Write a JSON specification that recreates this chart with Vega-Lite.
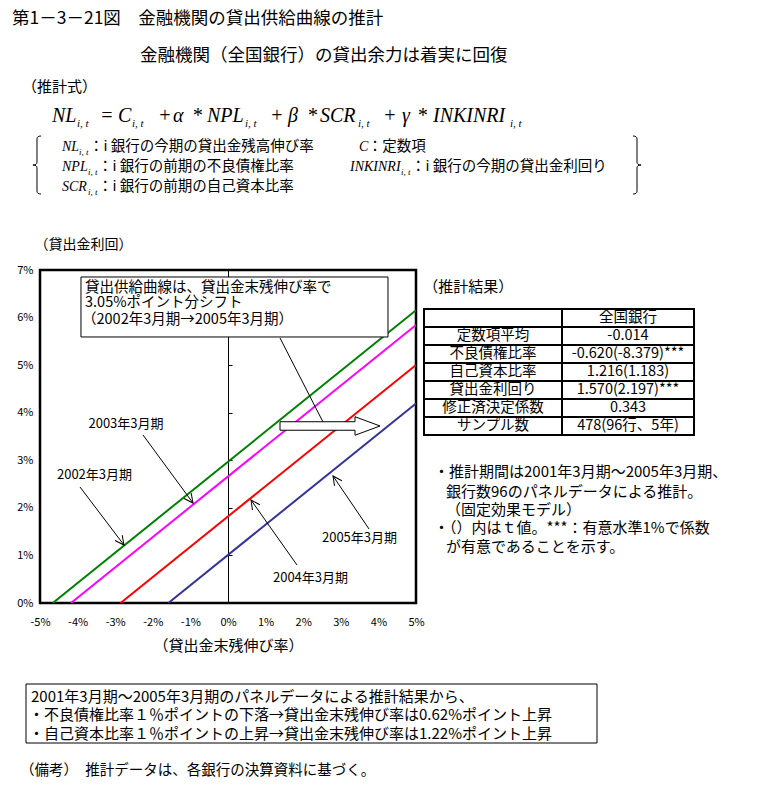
{
  "$schema": "https://vega.github.io/schema/vega-lite/v6.json",
  "width": 376,
  "height": 333,
  "autosize": {"type": "none"},
  "padding": {"left": 40, "top": 270, "right": 345, "bottom": 184},
  "background": "white",
  "config": {
    "view": {"stroke": "black", "strokeWidth": 2.5},
    "font": "Noto Sans CJK JP",
    "text": {"font": "Noto Sans CJK JP", "color": "black"},
    "axis": {"labelOverlap": false}
  },
  "resolve": {"axis": {"x": "independent", "y": "independent"}},
  "datasets": {
    "curves": [
      {"period": "2002年3月期", "x": -4.66, "y": 0},
      {"period": "2002年3月期", "x": 5, "y": 6.155},
      {"period": "2003年3月期", "x": -4.176, "y": 0},
      {"period": "2003年3月期", "x": 5, "y": 5.845},
      {"period": "2004年3月期", "x": -2.857, "y": 0},
      {"period": "2004年3月期", "x": 5, "y": 5.005},
      {"period": "2005年3月期", "x": -1.586, "y": 0},
      {"period": "2005年3月期", "x": 5, "y": 4.195}
    ],
    "periodLabels": [
      {"label": "2002年3月期", "x": -3.551, "y": 2.691, "x1": -3.936, "y1": 2.438, "x2": -2.766, "y2": 1.219},
      {"label": "2003年3月期", "x": -2.713, "y": 3.773, "x1": -2.261, "y1": 3.532, "x2": -0.931, "y2": 2.102},
      {"label": "2004年3月期", "x": 2.194, "y": 0.526, "x1": 1.835, "y1": 0.799, "x2": 0.612, "y2": 2.165},
      {"label": "2005年3月期", "x": 3.497, "y": 1.366, "x1": 3.75, "y1": 1.556, "x2": 2.793, "y2": 2.67}
    ],
    "frames": [
      {"name": "shift", "x": -3.91, "x2": 4.255, "y": 6.853, "y2": 5.592},
      {"name": "summary", "x": -5.372, "x2": 9.814, "y": -1.703, "y2": -2.943}
    ],
    "pointer": [
      {"x": 1.383, "y": 5.571, "x2": 2.527, "y2": 3.805}
    ],
    "shiftArrow": [
      {"x": 2.713, "y": 3.721}
    ],
    "braces": [
      {"side": "left", "x": -5.08, "y": 9.207},
      {"side": "right", "x": 10.878, "y": 9.207}
    ],
    "shiftNote": [
      {"t": "貸出供給曲線は、貸出金末残伸び率で", "x": -3.803, "y": 6.622},
      {"t": "3.05%ポイント分シフト", "x": -3.803, "y": 6.296},
      {"t": "（2002年3月期→2005年3月期）", "x": -3.883, "y": 5.949}
    ],
    "headings": [
      {"t": "第1－3－21図　金融機関の貸出供給曲線の推計", "x": -5.745, "y": 12.276},
      {"t": "金融機関（全国銀行）の貸出余力は着実に回復", "x": -2.34, "y": 11.499}
    ],
    "formulaLabel": [
      {"t": "（推計式）", "x": -5.479, "y": 10.857}
    ],
    "formula": [
      {"t": "NL", "x": -4.681, "y": 10.111},
      {"t": "=", "x": -3.404, "y": 10.111},
      {"t": "C", "x": -2.926, "y": 10.111},
      {"t": "+", "x": -1.862, "y": 10.111},
      {"t": "α", "x": -1.463, "y": 10.111},
      {"t": "*", "x": -0.957, "y": 10.111},
      {"t": "NPL", "x": -0.559, "y": 10.111},
      {"t": "+", "x": 1.117, "y": 10.111},
      {"t": "β", "x": 1.596, "y": 10.111},
      {"t": "*", "x": 2.101, "y": 10.111},
      {"t": "SCR", "x": 2.447, "y": 10.111},
      {"t": "+", "x": 4.122, "y": 10.111},
      {"t": "γ", "x": 4.628, "y": 10.111},
      {"t": "*", "x": 5.027, "y": 10.111},
      {"t": "INKINRI", "x": 5.452, "y": 10.111}
    ],
    "formulaSub": [
      {"t": "i, t", "x": -4.016, "y": 10.006},
      {"t": "i, t", "x": -2.553, "y": 10.006},
      {"t": "i, t", "x": 0.452, "y": 10.006},
      {"t": "i, t", "x": 3.457, "y": 10.006},
      {"t": "i, t", "x": 7.5, "y": 10.006}
    ],
    "defVars": [
      {"t": "NL", "x": -4.415, "y": 9.586},
      {"t": "C", "x": 3.484, "y": 9.586},
      {"t": "NPL", "x": -4.415, "y": 9.165},
      {"t": "INKINRI", "x": 3.245, "y": 9.165},
      {"t": "SCR", "x": -4.415, "y": 8.745}
    ],
    "defSubs": [
      {"t": "i, t", "x": -3.963, "y": 9.481},
      {"t": "i, t", "x": -3.723, "y": 9.06},
      {"t": "i, t", "x": 4.601, "y": 9.06},
      {"t": "i, t", "x": -3.723, "y": 8.64}
    ],
    "defTexts": [
      {"t": "：i 銀行の今期の貸出金残高伸び率", "x": -3.697, "y": 9.586},
      {"t": "：定数項", "x": 3.72, "y": 9.586},
      {"t": "：i 銀行の前期の不良債権比率", "x": -3.457, "y": 9.165},
      {"t": "：i 銀行の今期の貸出金利回り", "x": 4.867, "y": 9.165},
      {"t": "：i 銀行の前期の自己資本比率", "x": -3.457, "y": 8.745}
    ],
    "table": [
      {"item": "", "value": "全国銀行", "top": 6.18, "bottom": 5.802, "mid": 5.991},
      {"item": "定数項平均", "value": "-0.014", "top": 5.802, "bottom": 5.423, "mid": 5.613},
      {"item": "不良債権比率", "value": "-0.620(-8.379)***", "top": 5.423, "bottom": 5.045, "mid": 5.234},
      {"item": "自己資本比率", "value": "1.216(1.183)", "top": 5.045, "bottom": 4.667, "mid": 4.856},
      {"item": "貸出金利回り", "value": "1.570(2.197)***", "top": 4.667, "bottom": 4.288, "mid": 4.477},
      {"item": "修正済決定係数", "value": "0.343", "top": 4.288, "bottom": 3.91, "mid": 4.099},
      {"item": "サンプル数", "value": "478(96行、5年)", "top": 3.91, "bottom": 3.532, "mid": 3.721}
    ],
    "resultTitle": [
      {"t": "（推計結果）", "x": 5.19, "y": 6.643}
    ],
    "notes": [
      {"t": "・推計期間は2001年3月期～2005年3月期、", "x": 5.479, "y": 2.754},
      {"t": "銀行数96のパネルデータによる推計。", "x": 5.798, "y": 2.333},
      {"t": "（固定効果モデル）", "x": 5.798, "y": 1.955},
      {"t": "・（）内はｔ値。***：有意水準1%で係数", "x": 5.479, "y": 1.577},
      {"t": "が有意であることを示す。", "x": 5.798, "y": 1.177}
    ],
    "boxNotes": [
      {"t": "2001年3月期～2005年3月期のパネルデータによる推計結果から、", "x": -5.239, "y": -1.976},
      {"t": "・不良債権比率１％ポイントの下落→貸出金末残伸び率は0.62%ポイント上昇", "x": -5.293, "y": -2.354},
      {"t": "・自己資本比率１％ポイントの上昇→貸出金末残伸び率は1.22%ポイント上昇", "x": -5.293, "y": -2.754}
    ],
    "remark": [
      {"t": "（備考）　推計データは、各銀行の決算資料に基づく。", "x": -5.532, "y": -3.532}
    ]
  },
  "layer": [
    {
      "data": {"name": "curves"},
      "mark": {"type": "line", "strokeWidth": 2, "clip": true},
      "encoding": {
        "x": {
          "field": "x", "type": "quantitative",
          "scale": {"domain": [-5, 5], "nice": false, "zero": false},
          "axis": {
            "orient": "bottom",
            "values": [-5, -4, -3, -2, -1, 0, 1, 2, 3, 4, 5],
            "labelExpr": "datum.value + '%'",
            "grid": false, "ticks": false, "domain": false,
            "labelPadding": 13, "labelFontSize": 11, "labelFont": "Noto Sans CJK JP",
            "labelColor": "black", "labelOverlap": false, "labelFlush": false,
            "title": "（貸出金末残伸び率）", "titleFontSize": 15, "titleFontWeight": "normal",
            "titleFont": "Noto Sans CJK JP", "titleColor": "black", "titlePadding": 11
          }
        },
        "y": {
          "field": "y", "type": "quantitative",
          "scale": {"domain": [0, 7], "nice": false, "zero": false},
          "axis": {
            "orient": "left",
            "values": [0, 1, 2, 3, 4, 5, 6, 7],
            "labelExpr": "datum.value + '%'",
            "grid": false, "ticks": false, "domain": false,
            "labelPadding": 7, "labelFontSize": 11, "labelFont": "Noto Sans CJK JP",
            "labelColor": "black", "labelOverlap": false,
            "title": "（貸出金利回）", "titleAngle": 0, "titleAlign": "left", "titleBaseline": "middle",
            "titleX": -6, "titleY": -26, "titleFontSize": 14, "titleFontWeight": "normal",
            "titleFont": "Noto Sans CJK JP", "titleColor": "black"
          }
        },
        "color": {
          "field": "period", "type": "nominal",
          "scale": {"domain": ["2002年3月期", "2003年3月期", "2004年3月期", "2005年3月期"], "range": ["#008000", "#FF00FF", "#FF0000", "#333399"]},
          "legend": null
        }
      }
    },
    {
      "data": {"name": "curves"},
      "mark": {"type": "point", "opacity": 0},
      "encoding": {
        "x": {"field": "x", "type": "quantitative", "axis": null},
        "y": {
          "field": "y", "type": "quantitative",
          "axis": {
            "orient": "right", "offset": -188,
            "values": [0, 1, 2, 3, 4, 5, 6, 7],
            "labels": false, "ticks": true, "tickSize": 4, "tickColor": "black", "tickWidth": 1,
            "domain": true, "domainColor": "black", "domainWidth": 1,
            "grid": false, "title": null
          }
        }
      }
    },
    {
      "data": {"name": "periodLabels"},
      "mark": {"type": "rule", "color": "black", "strokeWidth": 1},
      "encoding": {
        "x": {"field": "x1", "type": "quantitative", "axis": null},
        "y": {"field": "y1", "type": "quantitative", "axis": null},
        "x2": {"field": "x2"},
        "y2": {"field": "y2"}
      }
    },
    {
      "data": {"name": "periodLabels"},
      "transform": [{"filter": "datum.x2 > datum.x1"}],
      "mark": {"type": "point", "shape": "M-0.5,1L0,0L0.5,1", "size": 324, "filled": false, "color": "black", "strokeWidth": 1, "opacity": 1, "angle": 143},
      "encoding": {
        "x": {"field": "x2", "type": "quantitative", "axis": null},
        "y": {"field": "y2", "type": "quantitative", "axis": null}
      }
    },
    {
      "data": {"name": "periodLabels"},
      "transform": [{"filter": "datum.x2 < datum.x1"}],
      "mark": {"type": "point", "shape": "M-0.5,1L0,0L0.5,1", "size": 324, "filled": false, "color": "black", "strokeWidth": 1, "opacity": 1, "angle": 325},
      "encoding": {
        "x": {"field": "x2", "type": "quantitative", "axis": null},
        "y": {"field": "y2", "type": "quantitative", "axis": null}
      }
    },
    {
      "data": {"name": "periodLabels"},
      "mark": {"type": "text", "align": "center", "baseline": "middle", "fontSize": 13},
      "encoding": {
        "x": {"field": "x", "type": "quantitative", "axis": null},
        "y": {"field": "y", "type": "quantitative", "axis": null},
        "text": {"field": "label"}
      }
    },
    {
      "data": {"name": "pointer"},
      "mark": {"type": "rule", "color": "black", "strokeWidth": 1},
      "encoding": {
        "x": {"field": "x", "type": "quantitative", "axis": null},
        "y": {"field": "y", "type": "quantitative", "axis": null},
        "x2": {"field": "x2"},
        "y2": {"field": "y2"}
      }
    },
    {
      "data": {"name": "shiftArrow"},
      "mark": {"type": "point", "shape": "M-1,-0.085L0.5,-0.085L0.5,-0.185L1,0L0.5,0.185L0.5,0.085L-1,0.085Z", "size": 10000, "filled": true, "fill": "white", "stroke": "black", "strokeWidth": 1, "opacity": 1},
      "encoding": {
        "x": {"field": "x", "type": "quantitative", "axis": null},
        "y": {"field": "y", "type": "quantitative", "axis": null}
      }
    },
    {
      "data": {"name": "frames"},
      "mark": {"type": "rect", "fill": "white", "stroke": "black", "strokeWidth": 1},
      "encoding": {
        "x": {"field": "x", "type": "quantitative", "axis": null},
        "x2": {"field": "x2"},
        "y": {"field": "y", "type": "quantitative", "axis": null},
        "y2": {"field": "y2"}
      }
    },
    {
      "data": {"name": "braces"},
      "mark": {"type": "point", "size": 3364, "filled": false, "color": "black", "strokeWidth": 1, "opacity": 1},
      "encoding": {
        "x": {"field": "x", "type": "quantitative", "axis": null},
        "y": {"field": "y", "type": "quantitative", "axis": null},
        "shape": {
          "field": "side", "type": "nominal",
          "scale": {"domain": ["left", "right"], "range": ["M0.14,-1Q0,-1,0,-0.9L0,-0.1Q0,0,-0.14,0Q0,0,0,0.1L0,0.9Q0,1,0.14,1", "M-0.14,-1Q0,-1,0,-0.9L0,-0.1Q0,0,0.14,0Q0,0,0,0.1L0,0.9Q0,1,-0.14,1"]},
          "legend": null
        }
      }
    },
    {
      "data": {"name": "shiftNote"},
      "mark": {"type": "text", "align": "left", "baseline": "middle", "fontSize": 14.5},
      "encoding": {
        "x": {"field": "x", "type": "quantitative", "axis": null},
        "y": {"field": "y", "type": "quantitative", "axis": null},
        "text": {"field": "t"}
      }
    },
    {
      "data": {"name": "headings"},
      "mark": {"type": "text", "align": "left", "baseline": "middle", "fontSize": 17.5},
      "encoding": {
        "x": {"field": "x", "type": "quantitative", "axis": null},
        "y": {"field": "y", "type": "quantitative", "axis": null},
        "text": {"field": "t"}
      }
    },
    {
      "data": {"name": "formulaLabel"},
      "mark": {"type": "text", "align": "left", "baseline": "middle", "fontSize": 15},
      "encoding": {
        "x": {"field": "x", "type": "quantitative", "axis": null},
        "y": {"field": "y", "type": "quantitative", "axis": null},
        "text": {"field": "t"}
      }
    },
    {
      "data": {"name": "formula"},
      "mark": {"type": "text", "align": "left", "baseline": "alphabetic", "fontSize": 20, "font": "Liberation Serif", "fontStyle": "italic"},
      "encoding": {
        "x": {"field": "x", "type": "quantitative", "axis": null},
        "y": {"field": "y", "type": "quantitative", "axis": null},
        "text": {"field": "t"}
      }
    },
    {
      "data": {"name": "formulaSub"},
      "mark": {"type": "text", "align": "left", "baseline": "alphabetic", "fontSize": 11, "font": "Liberation Serif", "fontStyle": "italic"},
      "encoding": {
        "x": {"field": "x", "type": "quantitative", "axis": null},
        "y": {"field": "y", "type": "quantitative", "axis": null},
        "text": {"field": "t"}
      }
    },
    {
      "data": {"name": "defVars"},
      "mark": {"type": "text", "align": "left", "baseline": "middle", "fontSize": 14, "font": "Liberation Serif", "fontStyle": "italic"},
      "encoding": {
        "x": {"field": "x", "type": "quantitative", "axis": null},
        "y": {"field": "y", "type": "quantitative", "axis": null},
        "text": {"field": "t"}
      }
    },
    {
      "data": {"name": "defSubs"},
      "mark": {"type": "text", "align": "left", "baseline": "middle", "fontSize": 9, "font": "Liberation Serif", "fontStyle": "italic"},
      "encoding": {
        "x": {"field": "x", "type": "quantitative", "axis": null},
        "y": {"field": "y", "type": "quantitative", "axis": null},
        "text": {"field": "t"}
      }
    },
    {
      "data": {"name": "defTexts"},
      "mark": {"type": "text", "align": "left", "baseline": "middle", "fontSize": 14.5},
      "encoding": {
        "x": {"field": "x", "type": "quantitative", "axis": null},
        "y": {"field": "y", "type": "quantitative", "axis": null},
        "text": {"field": "t"}
      }
    },
    {
      "data": {"name": "resultTitle"},
      "mark": {"type": "text", "align": "left", "baseline": "middle", "fontSize": 15},
      "encoding": {
        "x": {"field": "x", "type": "quantitative", "axis": null},
        "y": {"field": "y", "type": "quantitative", "axis": null},
        "text": {"field": "t"}
      }
    },
    {
      "data": {"name": "table"},
      "mark": {"type": "rect", "fillOpacity": 0, "stroke": "black", "strokeWidth": 2},
      "encoding": {
        "x": {"datum": 5.213, "type": "quantitative", "axis": null},
        "x2": {"datum": 8.883},
        "y": {"field": "top", "type": "quantitative", "axis": null},
        "y2": {"field": "bottom"}
      }
    },
    {
      "data": {"name": "table"},
      "mark": {"type": "rect", "fillOpacity": 0, "stroke": "black", "strokeWidth": 2},
      "encoding": {
        "x": {"datum": 8.883, "type": "quantitative", "axis": null},
        "x2": {"datum": 12.394},
        "y": {"field": "top", "type": "quantitative", "axis": null},
        "y2": {"field": "bottom"}
      }
    },
    {
      "data": {"name": "table"},
      "mark": {"type": "text", "align": "center", "baseline": "middle", "fontSize": 14.5},
      "encoding": {
        "x": {"datum": 7.048, "type": "quantitative", "axis": null},
        "y": {"field": "mid", "type": "quantitative", "axis": null},
        "text": {"field": "item"}
      }
    },
    {
      "data": {"name": "table"},
      "mark": {"type": "text", "align": "center", "baseline": "middle", "fontSize": 14.5},
      "encoding": {
        "x": {"datum": 10.638, "type": "quantitative", "axis": null},
        "y": {"field": "mid", "type": "quantitative", "axis": null},
        "text": {"field": "value"}
      }
    },
    {
      "data": {"name": "notes"},
      "mark": {"type": "text", "align": "left", "baseline": "middle", "fontSize": 15},
      "encoding": {
        "x": {"field": "x", "type": "quantitative", "axis": null},
        "y": {"field": "y", "type": "quantitative", "axis": null},
        "text": {"field": "t"}
      }
    },
    {
      "data": {"name": "boxNotes"},
      "mark": {"type": "text", "align": "left", "baseline": "middle", "fontSize": 15},
      "encoding": {
        "x": {"field": "x", "type": "quantitative", "axis": null},
        "y": {"field": "y", "type": "quantitative", "axis": null},
        "text": {"field": "t"}
      }
    },
    {
      "data": {"name": "remark"},
      "mark": {"type": "text", "align": "left", "baseline": "middle", "fontSize": 14.5},
      "encoding": {
        "x": {"field": "x", "type": "quantitative", "axis": null},
        "y": {"field": "y", "type": "quantitative", "axis": null},
        "text": {"field": "t"}
      }
    }
  ]
}
